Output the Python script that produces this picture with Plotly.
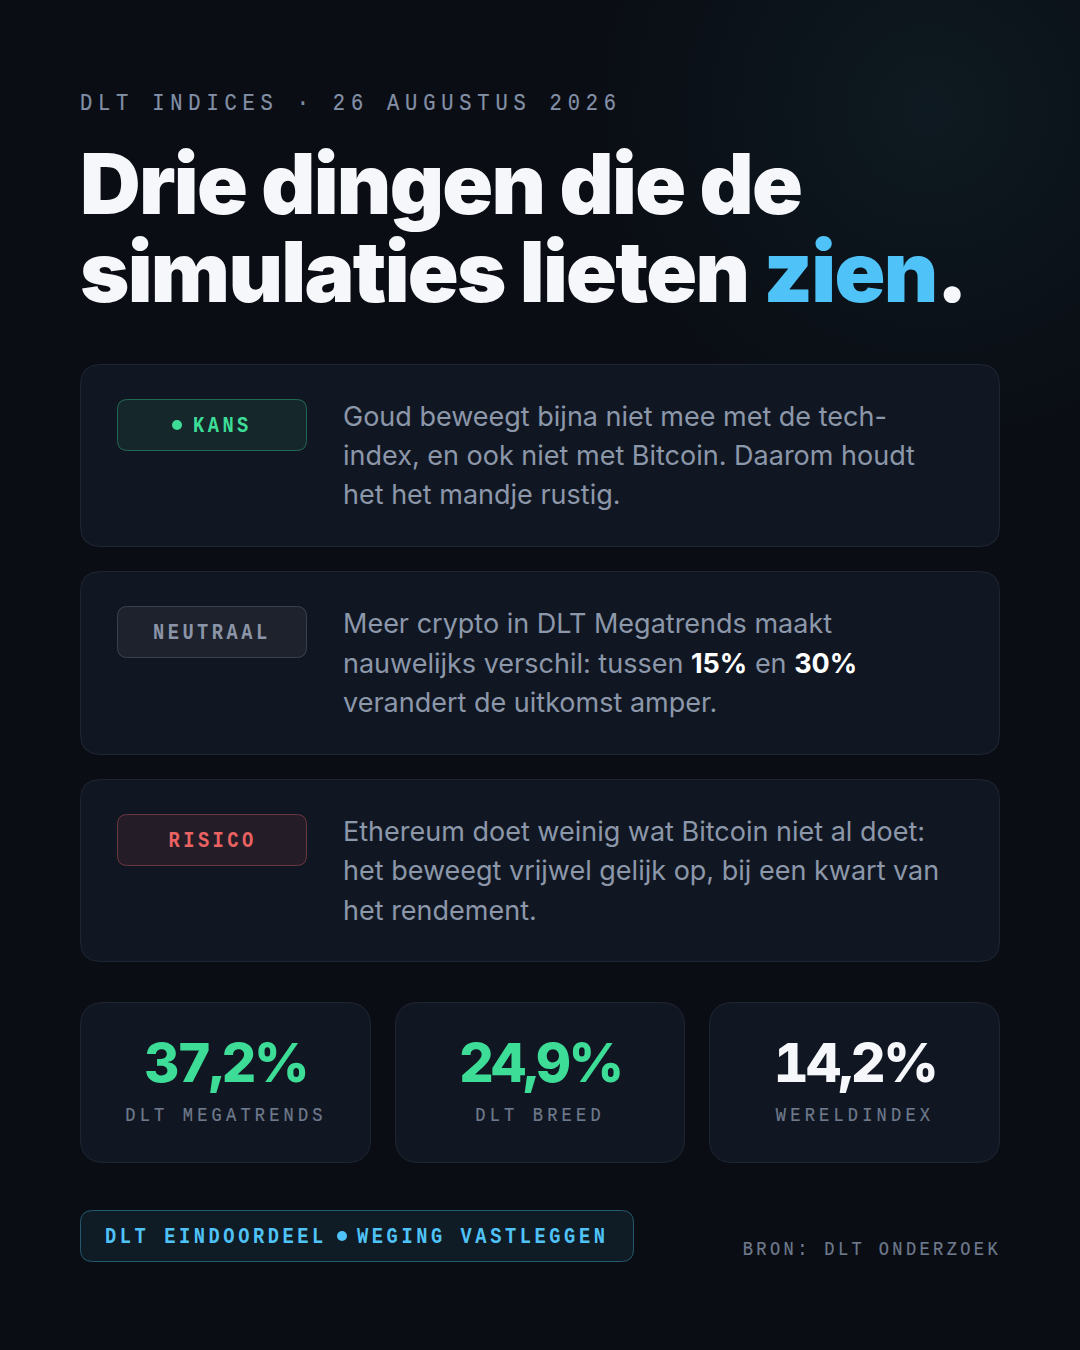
import json
import plotly.graph_objects as go

MONO = "Liberation Mono"
SANS = "Inter"
BG = "#0a0d14"
CARD = "#111722"
CARD_LINE = "#1f2633"
INK = "#f5f7fa"
BODY = "#8c97aa"
MUTED = "#6f7a8d"
HEAD = "#8390a6"
GREEN = "#3ddc97"
BLUE = "#4fc3f7"
RED = "#ea6262"
GREY = "#8b95a7"

kicker = "DLT INDICES · 26 AUGUSTUS 2026"
title_text = f'Drie dingen die de<br>simulaties lieten <span style="color:{BLUE}">zien</span>.'
card_tags = ["KANS", "NEUTRAAL", "RISICO"]
card_tag_colors = [GREEN, GREY, RED]
card_lines = [
    ["Goud beweegt bijna niet mee met de tech-",
     "index, en ook niet met Bitcoin. Daarom houdt",
     "het het mandje rustig."],
    ["Meer crypto in DLT Megatrends maakt",
     f'nauwelijks verschil: tussen <b><span style="color:#ffffff">15%</span></b> en <b><span style="color:#ffffff">30%</span></b>',
     "verandert de uitkomst amper."],
    ["Ethereum doet weinig wat Bitcoin niet al doet:",
     "het beweegt vrijwel gelijk op, bij een kwart van",
     "het rendement."],
]
card_line_steps = [[0, 39, 78], [0, 40, 79], [0, 39, 79]]
stat_values = ["37,2%", "24,9%", "14,2%"]
stat_labels = ["DLT MEGATRENDS", "DLT BREED", "WERELDINDEX"]
stat_colors = [GREEN, GREEN, INK]
footer_left = "DLT EINDOORDEEL"
footer_right = "WEGING VASTLEGGEN"
source = "BRON: DLT ONDERZOEK"

card_tops = [364, 571, 779]
card_bottoms = [547, 755, 962]
badge_styles = [("#15272a", "#1f6a50"), ("#1d222c", "#3b424e"), ("#241d27", "#6b3840")]
stat_lefts = [80, 395, 709]
stat_rights = [371, 685, 1000]
MONO_SX = 0.85


def rr(x0, y0, x1, y1, r):
    return (f"M {x0+r} {y0} L {x1-r} {y0} Q {x1} {y0} {x1} {y0+r} L {x1} {y1-r} "
            f"Q {x1} {y1} {x1-r} {y1} L {x0+r} {y1} Q {x0} {y1} {x0} {y1-r} "
            f"L {x0} {y0+r} Q {x0} {y0} {x0+r} {y0} Z")


shapes = []
notes = []
tracking = []
squeeze = []


def box(x0, y0, x1, y1, r, fill, line):
    shapes.append(dict(type="path", xref="x", yref="y", path=rr(x0, y0, x1, y1, r),
                       fillcolor=fill, line=dict(color=line, width=1), layer="below"))


def dot(cx, cy, r, color):
    shapes.append(dict(type="circle", xref="x", yref="y", x0=cx-r, x1=cx+r, y0=cy-r, y1=cy+r,
                       fillcolor=color, line=dict(width=0), layer="above"))


def text(x, y, s, size, color, family=SANS, weight=400, anchor="left", track=0, sx=0, tnum=False):
    notes.append(dict(x=x, y=y, text=s, xref="x", yref="y", showarrow=False,
                      xanchor=anchor, yanchor="middle", align=anchor,
                      borderpad=0, borderwidth=0,
                      font=dict(size=size, color=color, family=family, weight=weight)))
    tracking.append(track)
    squeeze.append([sx, anchor, 0.25 if weight == 400 and sx else 0, tnum])


def mono(x, y, s, size, color, advance, weight=400, anchor="left"):
    text(x, y, s, size, color, MONO, weight, anchor,
         track=round(advance / MONO_SX - 0.6 * size, 2), sx=MONO_SX)


mono(80, 103.5, kicker, 24, HEAD, 18.06)
text(80, 238.1, title_text, 84, INK, SANS, 900, track=-1.7)

for i in range(3):
    box(80.5, card_tops[i]+.5, 999.5, card_bottoms[i]-.5, 20, CARD, CARD_LINE)
    by = card_tops[i] + 35
    box(117.5, by+.5, 306.5, by+51.5, 10, badge_styles[i][0], badge_styles[i][1])
    if i == 0:
        dot(177, by+26, 5, GREEN)
        mono(193, by+27.6, card_tags[i], 22, card_tag_colors[i], 14.7, 700)
    else:
        mono(212, by+27.6, card_tags[i], 22, card_tag_colors[i], 14.7, 700, anchor="center")
    for j, ln in enumerate(card_lines[i]):
        text(343, card_tops[i] + 52.6 + card_line_steps[i][j], ln, 27, BODY, SANS, 400)

for i in range(3):
    box(stat_lefts[i]+.5, 1002.5, stat_rights[i]-.5, 1162.5, 24, CARD, CARD_LINE)
    cx = (stat_lefts[i]+stat_rights[i])/2
    text(cx, 1062, stat_values[i], 54, stat_colors[i], SANS, 800, anchor="center", track=-2.4, tnum=True)
    mono(cx, 1115, stat_labels[i], 20, MUTED, 14.4, anchor="center")

box(80.5, 1210.5, 633.5, 1261.5, 12, "#0f1b25", "#245a70")
mono(105, 1237.6, footer_left, 22, BLUE, 14.8, 700)
dot(342, 1236, 5, BLUE)
mono(357, 1237.6, footer_right, 22, BLUE, 14.8, 700)
mono(1000.5, 1249, source, 20, MUTED, 13.6, anchor="right")

fig = go.Figure()
fig.update_layout(
    width=1080, height=1350, margin=dict(l=0, r=0, t=0, b=0),
    paper_bgcolor="rgba(0,0,0,0)", plot_bgcolor="rgba(0,0,0,0)",
    xaxis=dict(range=[0, 1080], visible=False, fixedrange=True),
    yaxis=dict(range=[1350, 0], visible=False, fixedrange=True),
    shapes=shapes, annotations=notes, showlegend=False,
)

post = """
document.documentElement.style.background = '%s';
document.body.style.margin = '0';
document.body.style.overflow = 'hidden';
document.body.style.background = 'radial-gradient(circle 340px at 930px 110px, rgba(40,110,120,0.13), rgba(40,110,120,0) 100%%), %s';
var tr = %s, sq = %s;
document.querySelectorAll('.annotation').forEach(function (g) {
  var i = +g.getAttribute('data-index');
  var t = g.querySelector('text');
  if (!t) return;
  if (tr[i]) { t.style.letterSpacing = tr[i] + 'px'; }
  if (sq[i][3]) { t.style.fontFeatureSettings = '"tnum"'; }
  if (sq[i][0]) {
    t.style.transformBox = 'fill-box';
    t.style.transformOrigin = sq[i][1] + ' center';
    t.style.transform = 'scaleX(' + sq[i][0] + ')';
  }
  if (sq[i][2]) { t.style.stroke = t.style.fill; t.style.strokeWidth = sq[i][2] + 'px'; }
  t.querySelectorAll('tspan.line').forEach(function (l, k) {
    if (k > 0) { l.setAttribute('dy', '88px'); }
  });
});
""" % (BG, BG, json.dumps(tracking), json.dumps(squeeze))

fig.write_html("out.html", config=dict(displayModeBar=False, staticPlot=True), post_script=post)
